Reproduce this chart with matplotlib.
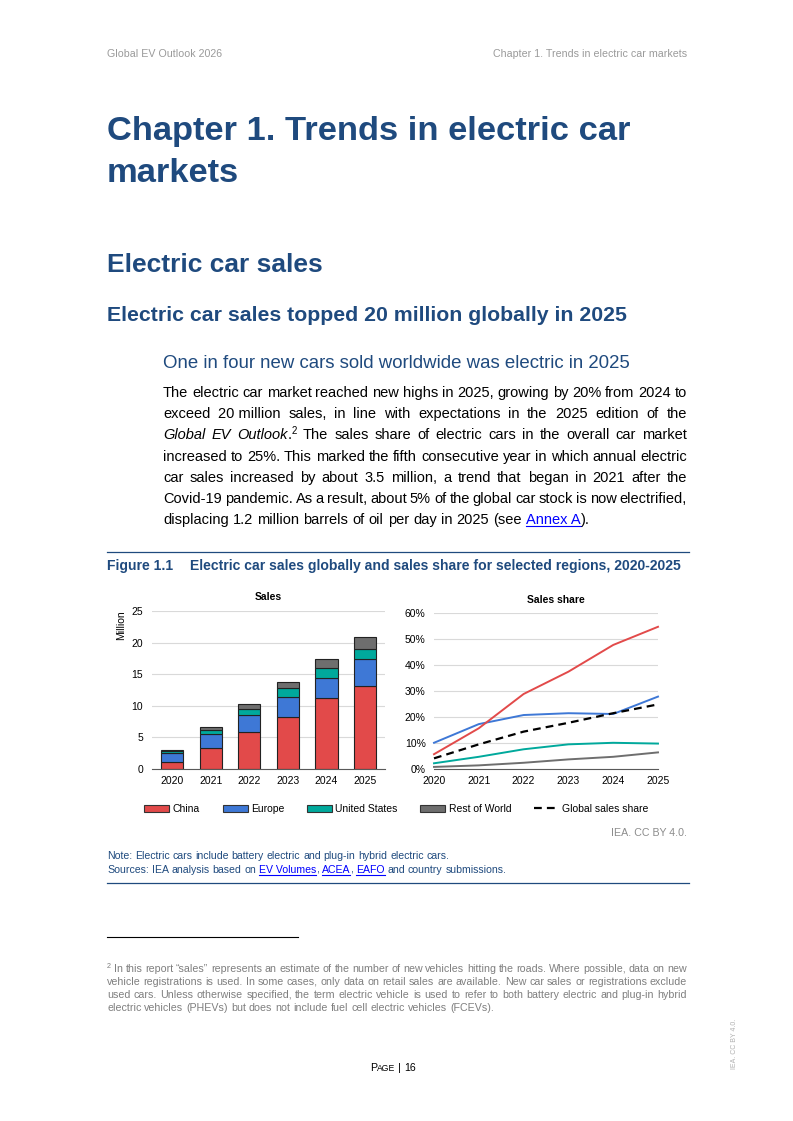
import matplotlib
matplotlib.use('Agg')
import matplotlib.pyplot as plt
from matplotlib.lines import Line2D
from matplotlib.patches import Patch
from matplotlib.ticker import PercentFormatter
import numpy as np

plt.rcParams['font.family'] = ['Liberation Sans', 'DejaVu Sans']

# chart data
years = [2020, 2021, 2022, 2023, 2024, 2025]
sales_china = [1.15, 3.3, 5.9, 8.2, 11.3, 13.2]
sales_europe = [1.35, 2.3, 2.7, 3.15, 3.15, 4.2]
sales_us = [0.3, 0.65, 0.95, 1.4, 1.5, 1.55]
sales_row = [0.25, 0.35, 0.7, 0.95, 1.4, 1.95]

share_china = [5.7, 15.7, 28.9, 37.5, 47.8, 54.8]
share_europe = [10.1, 17.3, 20.8, 21.5, 21.2, 27.9]
share_us = [2.2, 4.7, 7.6, 9.5, 10.1, 9.8]
share_row = [0.8, 1.4, 2.4, 3.7, 4.7, 6.4]
share_global = [4.1, 9.5, 14.4, 17.8, 21.5, 24.9]

region_names = ['China', 'Europe', 'United States', 'Rest of World']
region_colors = ['#E24A4A', '#3E78D6', '#00A99C', '#6E6E6E']

BLUE = '#1F4A7E'
W, H = 793, 1121

fig = plt.figure(figsize=(W / 100, H / 100), dpi=100)
fig.patch.set_facecolor('white')
renderer = fig.canvas.get_renderer()


def fx(x):
    return x / W


def fy(y):
    return 1 - y / H


def text_w(s, **kw):
    t = fig.text(0, 0, s, **kw)
    w = t.get_window_extent(renderer).width
    t.remove()
    return w


def S(s, **kw):
    return [[(w, kw)] for w in s.split(' ')]


IT = {'style': 'italic'}
SUP = {'fontsize': 7, 'dy': 5}
LINK = {'color': '#0000FF', 'link': True}


def draw_line(x0, y, words, base, x1=None):
    parts = []
    for w in words:
        runs = []
        for t, kw in w:
            k = dict(base)
            k.update(kw)
            dy = k.pop('dy', 0)
            link = k.pop('link', False)
            runs.append((t, k, dy, link, text_w(t, **k)))
        parts.append(runs)
    widths = [sum(r[4] for r in p) for p in parts]
    if x1 is None:
        gap = text_w('a a', **base) - text_w('aa', **base)
    else:
        gap = (x1 - x0 - sum(widths)) / (len(parts) - 1)
    x = x0
    for p, wd in zip(parts, widths):
        xx = x
        for t, k, dy, link, w in p:
            fig.text(fx(xx), fy(y - dy), t, va='baseline', ha='left', **k)
            if link:
                fig.add_artist(Line2D([fx(xx), fx(xx + w)], [fy(y + 2)] * 2,
                                      color=k['color'], lw=0.8))
            xx += w
        x += wd + gap


# header
fig.text(fx(107), fy(57), 'Global EV Outlook 2026', fontsize=7.7, color='#9a9a9a', va='baseline')
fig.text(fx(687), fy(57), 'Chapter 1. Trends in electric car markets', fontsize=7.7,
         color='#9a9a9a', va='baseline', ha='right')

# headings
fig.text(fx(107), fy(140), 'Chapter 1. Trends in electric car', fontsize=24.8,
         fontweight='bold', color=BLUE, va='baseline')
fig.text(fx(107), fy(182), 'markets', fontsize=24.8, fontweight='bold', color=BLUE, va='baseline')
fig.text(fx(107), fy(272), 'Electric car sales', fontsize=19, fontweight='bold', color=BLUE, va='baseline')
fig.text(fx(107), fy(321), 'Electric car sales topped 20 million globally in 2025', fontsize=15.3,
         fontweight='bold', color=BLUE, va='baseline')
fig.text(fx(163), fy(368), 'One in four new cars sold worldwide was electric in 2025', fontsize=13.4,
         color=BLUE, va='baseline')

# body paragraph
body = dict(fontsize=10.56, color='black')
body_lines = [
    S('The electric car market reached new highs in 2025, growing by 20% from 2024 to'),
    S('exceed') + [[('20\u00a0million', {})]] + S('sales, in line with expectations in the 2025 edition of the'),
    [[('Global', IT)], [('EV', IT)], [('Outlook', IT), ('.', {}), ('2', SUP)]]
    + S('The sales share of electric cars in the overall car market'),
    S('increased to 25%. This marked the fifth consecutive year in which annual electric'),
    S('car sales increased by about 3.5 million, a trend that began in 2021 after the'),
    S('Covid-19 pandemic. As a result, about 5% of the global car stock is now electrified,'),
    S('displacing 1.2 million barrels of oil per day in 2025 (see') + [[('Annex A', LINK), (').', {})]],
]
for i, ln in enumerate(body_lines):
    y = 397 + i * 21.2
    draw_line(163, y, ln, body, None if i == len(body_lines) - 1 else 687)

# figure title and rules
fig.add_artist(Line2D([fx(107), fx(689)], [fy(552)] * 2, color=BLUE, lw=0.9))
fig.text(fx(107), fy(570), 'Figure 1.1', fontsize=10.1, fontweight='bold', color=BLUE, va='baseline')
fig.text(fx(190), fy(570), 'Electric car sales globally and sales share for selected regions, 2020-2025',
         fontsize=10.1, fontweight='bold', color=BLUE, va='baseline')

# left panel: stacked bars
sales = [sales_china, sales_europe, sales_us, sales_row]
xpos = np.arange(len(years))
ax1 = fig.add_axes([fx(151.7), fy(769), (385 - 151.7) / W, (769 - 611) / H])
bottom = np.zeros(len(years))
for vals, col in zip(sales, region_colors):
    ax1.bar(xpos, vals, width=0.58, bottom=bottom, color=col, edgecolor='#222222',
            linewidth=0.8, zorder=3)
    bottom += np.array(vals)
ax1.set_xlim(-0.53, 5.52)
ax1.set_ylim(0, 25)
ax1.set_yticks(range(0, 26, 5))
ax1.set_xticks(xpos, [str(y) for y in years])
ax1.grid(axis='y', color='#d9d9d9', lw=0.8, zorder=0)
for s in ['top', 'right', 'left']:
    ax1.spines[s].set_visible(False)
ax1.spines['bottom'].set_color('#595959')
ax1.spines['bottom'].set_zorder(4)
ax1.tick_params(axis='y', length=0, labelsize=7.5, pad=6.3)
ax1.tick_params(axis='x', length=0, labelsize=7.5, pad=5)
ax1.set_facecolor('none')
fig.text(fx(268), fy(597), 'Sales', fontsize=7.5, fontweight='bold', ha='center', va='center')
fig.text(fx(120.7), fy(625), 'Million', fontsize=7.5, rotation=90, ha='center', va='center')

# right panel: sales share lines
ax2 = fig.add_axes([fx(434), fy(769), (658 - 434) / W, (769 - 613.3) / H])
shares = [share_china, share_europe, share_us, share_row]
for vals, col, z in zip(shares, region_colors, [5, 4, 3, 2]):
    ax2.plot(years, vals, color=col, lw=1.4, zorder=z, clip_on=False)
ax2.plot(years, share_global, color='black', lw=1.6, dashes=(3.5, 2.3), zorder=6, clip_on=False)
ax2.set_xlim(2020, 2025)
ax2.set_ylim(0, 60)
ax2.set_yticks(range(0, 61, 10))
ax2.set_xticks(years)
ax2.yaxis.set_major_formatter(PercentFormatter(decimals=0))
ax2.grid(axis='y', color='#d9d9d9', lw=0.8, zorder=0)
for s in ['top', 'right', 'left']:
    ax2.spines[s].set_visible(False)
ax2.spines['bottom'].set_color('#595959')
ax2.tick_params(axis='y', length=0, labelsize=7.5, pad=6)
ax2.tick_params(axis='x', length=0, labelsize=7.5, pad=5)
ax2.set_facecolor('none')
fig.text(fx(556), fy(600), 'Sales share', fontsize=7.5, fontweight='bold', ha='center', va='center')

# legend
handles = [Patch(facecolor=c, edgecolor='#333333', lw=0.8, label=n)
           for n, c in zip(region_names, region_colors)]
handles.append(Line2D([], [], color='black', lw=1.6, dashes=(3.5, 2.3), label='Global sales share'))
fig.legend(handles=handles, loc='center', bbox_to_anchor=(fx(396.5), fy(809)), ncol=5,
           frameon=False, fontsize=7.5, handlelength=2.4, handleheight=0.65,
           handletextpad=0.3, columnspacing=2.2)

fig.text(fx(687), fy(836), 'IEA. CC BY 4.0.', fontsize=7.7, color='#8c8c8c', ha='right', va='baseline')

note = dict(fontsize=7.6, color=BLUE)
draw_line(107, 859, S('Note: Electric cars include battery electric and plug-in hybrid electric cars.'), note)
draw_line(107, 873, S('Sources: IEA analysis based on') + [[('EV Volumes', LINK), (',', {})],
                                                             [('ACEA', LINK), (',', {})],
                                                             [('EAFO', LINK)]]
          + S('and country submissions.'), note)
fig.add_artist(Line2D([fx(107), fx(689)], [fy(883)] * 2, color=BLUE, lw=0.9))

# footnote
fig.add_artist(Line2D([fx(107), fx(298)], [fy(937)] * 2, color='black', lw=0.8))
foot = dict(fontsize=7.68, color='#7f7f7f')
foot_lines = [
    [[('2', {'fontsize': 5.2, 'dy': 3.5})]]
    + S('In this report \u201csales\u201d represents an estimate of the number of new vehicles hitting the roads. Where possible, data on new'),
    S('vehicle registrations is used. In some cases, only data on retail sales are available. New car sales or registrations exclude'),
    S('used cars. Unless otherwise specified, the term electric vehicle is used to refer to both battery electric and plug-in hybrid'),
    S('electric vehicles (PHEVs) but does not include fuel cell electric vehicles (FCEVs).'),
]
for i, ln in enumerate(foot_lines):
    draw_line(107, 972 + i * 13, ln, foot, None if i == len(foot_lines) - 1 else 687)

# page number and side mark
draw_line(370, 1071, [[('P', {}), ('AGE', {'fontsize': 6.2})], [('|', {})], [('16', {})]],
          dict(fontsize=7.7, color='black'))
fig.text(fx(735), fy(1044), 'IEA. CC BY 4.0.', fontsize=5, color='#b0b0b0', rotation=90,
         ha='center', va='center')

fig.savefig('out.png', dpi=100)
